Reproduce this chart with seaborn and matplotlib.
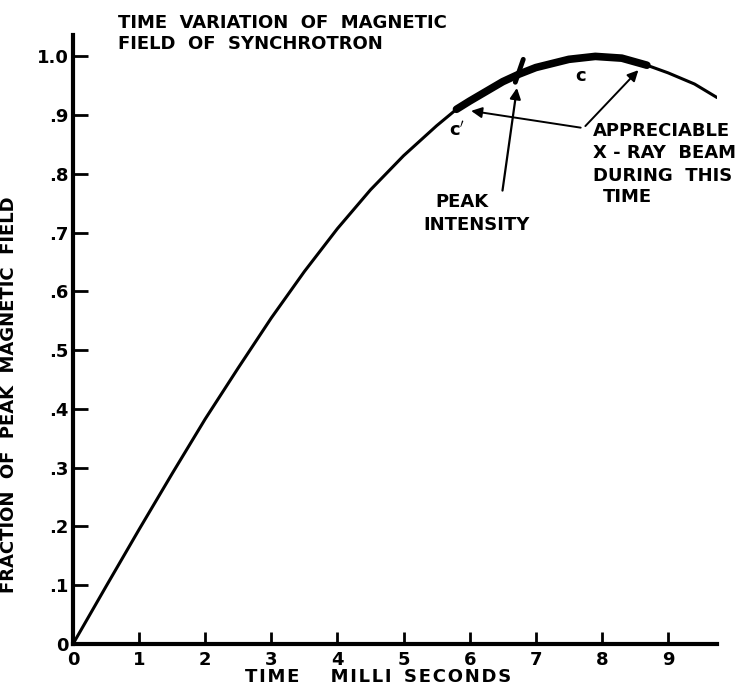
import numpy as np
import pandas as pd
import matplotlib
matplotlib.use("Agg")
import matplotlib.pyplot as plt
import seaborn as sns

# values
time_ms = [0.0, 0.5, 1.0, 1.5, 2.0, 2.5, 3.0, 3.5, 4.0, 4.5, 5.0, 5.5, 5.8,
           6.0, 6.5, 6.75, 7.0, 7.5, 7.9, 8.3, 8.68, 9.0, 9.4, 9.74]
field_frac = [0.0, 0.098, 0.195, 0.29, 0.383, 0.47, 0.555, 0.634, 0.707, 0.773, 0.831, 0.882, 0.91,
              0.924, 0.957, 0.97, 0.981, 0.995, 1.0, 0.997, 0.985, 0.972, 0.953, 0.93]
beam_start, beam_end = 5.8, 8.68
x_ticks = list(range(10))
x_ticklabels = [str(i) for i in x_ticks]
y_ticks = [0.0, 0.1, 0.2, 0.3, 0.4, 0.5, 0.6, 0.7, 0.8, 0.9, 1.0]
y_ticklabels = ["0", ".1", ".2", ".3", ".4", ".5", ".6", ".7", ".8", ".9", "1.0"]


def spaced(s, gap="\u200a"):
    # loose lettering like the hand-lettered original
    return gap.join(s)


df = pd.DataFrame({"t": time_ms, "b": field_frac})
beam = df[(df.t >= beam_start) & (df.t <= beam_end)]

sns.set_style("ticks")
plt.rcParams["font.family"] = ["DejaVu Sans"]
plt.rcParams["font.weight"] = "bold"
for key in ["text.color", "axes.labelcolor", "xtick.color", "ytick.color",
            "xtick.labelcolor", "ytick.labelcolor"]:
    plt.rcParams[key] = "black"

fig = plt.figure(figsize=(7.44, 6.91), dpi=100)
ax = fig.add_axes([0.0981, 0.068, 0.8656, 0.881])

sns.lineplot(data=df, x="t", y="b", color="black", linewidth=2.2, ax=ax)
sns.lineplot(data=beam, x="t", y="b", color="black", linewidth=5.5, ax=ax)

ax.set_xlim(0, 9.74)
ax.set_ylim(0, 1.036)
ax.set_xticks(x_ticks)
ax.set_xticklabels(x_ticklabels, fontsize=13, fontweight="bold", color="black")
ax.set_yticks(y_ticks)
ax.set_yticklabels(y_ticklabels, fontsize=13, fontweight="bold", color="black")
ax.tick_params(axis="x", direction="in", length=9, width=2, pad=5, color="black")
ax.tick_params(axis="y", direction="in", length=11, width=2, pad=3, color="black")
for s in ["top", "right"]:
    ax.spines[s].set_visible(False)
for s in ["left", "bottom"]:
    ax.spines[s].set_linewidth(3)
    ax.spines[s].set_color("black")

ax.set_xlabel("")
ax.set_ylabel("FRACTION  OF  PEAK  MAGNETIC  FIELD", fontsize=13, fontweight="bold", color="black")
ax.yaxis.set_label_coords(-0.0854, 0.409)
fig.text(378 / 744, 14 / 691, spaced("TIME") + "     " + spaced("MILLI") + "  " + spaced("SECONDS"),
         fontsize=13, fontweight="bold", ha="center", va="center", color="black")

# title inside the plot area
ax.text(0.68, 1.072, "TIME  VARIATION  OF  MAGNETIC\nFIELD  OF  SYNCHROTRON",
        fontsize=13, fontweight="bold", va="top", ha="left", linespacing=1.2,
        clip_on=False, color="black")

# labels c and c'
ax.text(7.67, 0.966, "c", fontsize=13, fontweight="bold", ha="center", va="center")
ax.text(5.81, 0.874, "c$'$", fontsize=13, fontweight="bold", ha="center", va="center")

# peak intensity marker crossing the curve
ax.plot([6.69, 6.81], [0.956, 0.995], color="black", linewidth=3.5)
ax.annotate("", xy=(6.72, 0.951), xytext=(6.49, 0.767),
            arrowprops=dict(arrowstyle="-|>", color="black", lw=1.6, mutation_scale=16))
ax.text(5.48, 0.767, "PEAK", fontsize=13, fontweight="bold", ha="left", va="top")
ax.text(5.30, 0.728, "INTENSITY", fontsize=13, fontweight="bold", ha="left", va="top")

# bracket to the beam segment
vx, vy = 7.72, 0.878
ax.annotate("", xy=(5.98, 0.908), xytext=(vx, vy),
            arrowprops=dict(arrowstyle="-|>", color="black", lw=1.4, mutation_scale=16))
ax.annotate("", xy=(8.58, 0.98), xytext=(vx, vy),
            arrowprops=dict(arrowstyle="-|>", color="black", lw=1.4, mutation_scale=16))
ax.text(7.87, 0.888, "APPRECIABLE\nX - RAY  BEAM\nDURING  THIS", fontsize=13,
        fontweight="bold", ha="left", va="top", linespacing=1.3)
ax.text(8.02, 0.776, "TIME", fontsize=13, fontweight="bold", ha="left", va="top")

fig.savefig("out.png", dpi=100)
